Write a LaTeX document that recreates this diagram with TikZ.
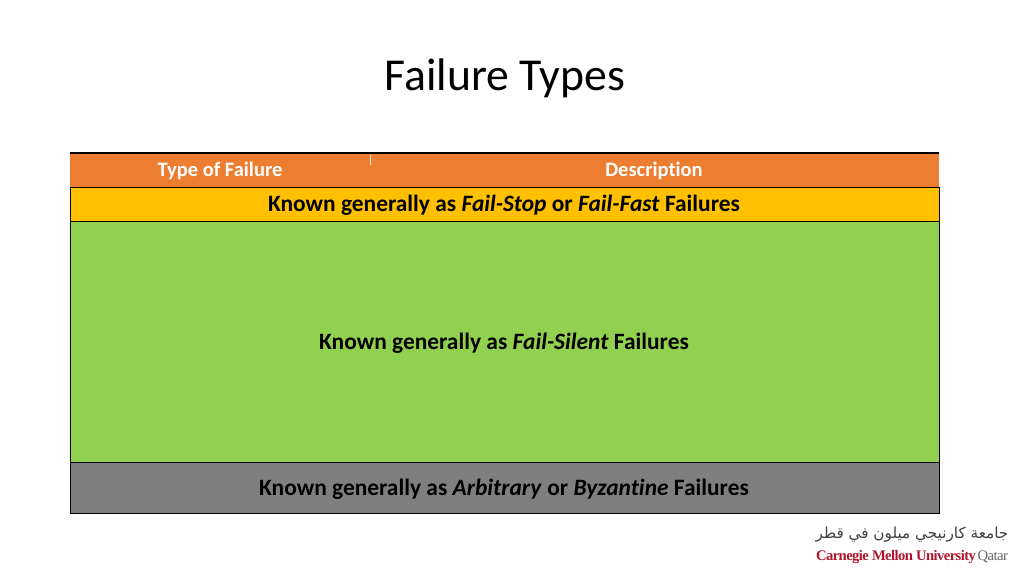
\documentclass[tikz,border=0pt]{standalone}
\usepackage{fontspec}
\setmainfont[RawFeature=-liga]{Carlito}
\newfontfamily\arabicfont[Script=Arabic]{DejaVu Sans}
\newfontfamily\logofont{Liberation Serif}
\TeXXeTstate=1
\definecolor{hdr}{HTML}{ED7D31}
\definecolor{yel}{HTML}{FFC000}
\definecolor{grn}{HTML}{92D050}
\definecolor{gry}{HTML}{7F7F7F}
\definecolor{cmured}{HTML}{B0142C}
\begin{document}
\begin{tikzpicture}[x=0.3mm,y=-0.3mm,
  cell/.style={draw=black,line width=0.8pt},
  rowtext/.style={font=\fontsize{20}{22}\selectfont\bfseries,text=black},
  hdrtext/.style={font=\fontsize{17.5}{20}\selectfont\bfseries,text=white}]
\useasboundingbox (0,0) rectangle (1024,576);
\node (title) at (505,78) {\fontsize{39}{44}\selectfont Failure Types};
\fill[hdr] (70,153) rectangle (939,187);
\draw[line width=1.5pt] (70,153) -- (939,153);
\draw[white!80!hdr,line width=0.5pt] (370,155) -- (370,165);
\node[hdrtext] (h1) at (220,171) {Type of Failure};
\node[hdrtext] (h2) at (654,171) {Description};
\fill[yel] (70,187) rectangle (939,221);
\fill[grn] (70,221) rectangle (939,462);
\fill[gry] (70,462) rectangle (939,513);
\draw[cell] (70,187) rectangle (939,221);
\draw[cell] (70,221) rectangle (939,462);
\draw[cell] (70,462) rectangle (939,513);
\node[rowtext] (r1) at (504,205) {Known generally as \textit{Fail-Stop} or \textit{Fail-Fast} Failures};
\node[rowtext] (r2) at (504,343) {Known generally as \textit{Fail-Silent} Failures};
\node[rowtext] (r3) at (504,489) {Known generally as \textit{Arbitrary} or \textit{Byzantine} Failures};
\node (ar) at (912,535) {\arabicfont\fontsize{13}{14}\selectfont\color{black!75}\beginR جامعة كارنيجي ميلون في قطر\endR};
\node (cmu) at (912,557) {\logofont\fontsize{12.5}{13}\selectfont\addfontfeature{LetterSpace=-4}\textcolor{cmured}{\textbf{Carnegie Mellon University}}\,\textcolor{black!60}{Qatar}};
\end{tikzpicture}
\end{document}
